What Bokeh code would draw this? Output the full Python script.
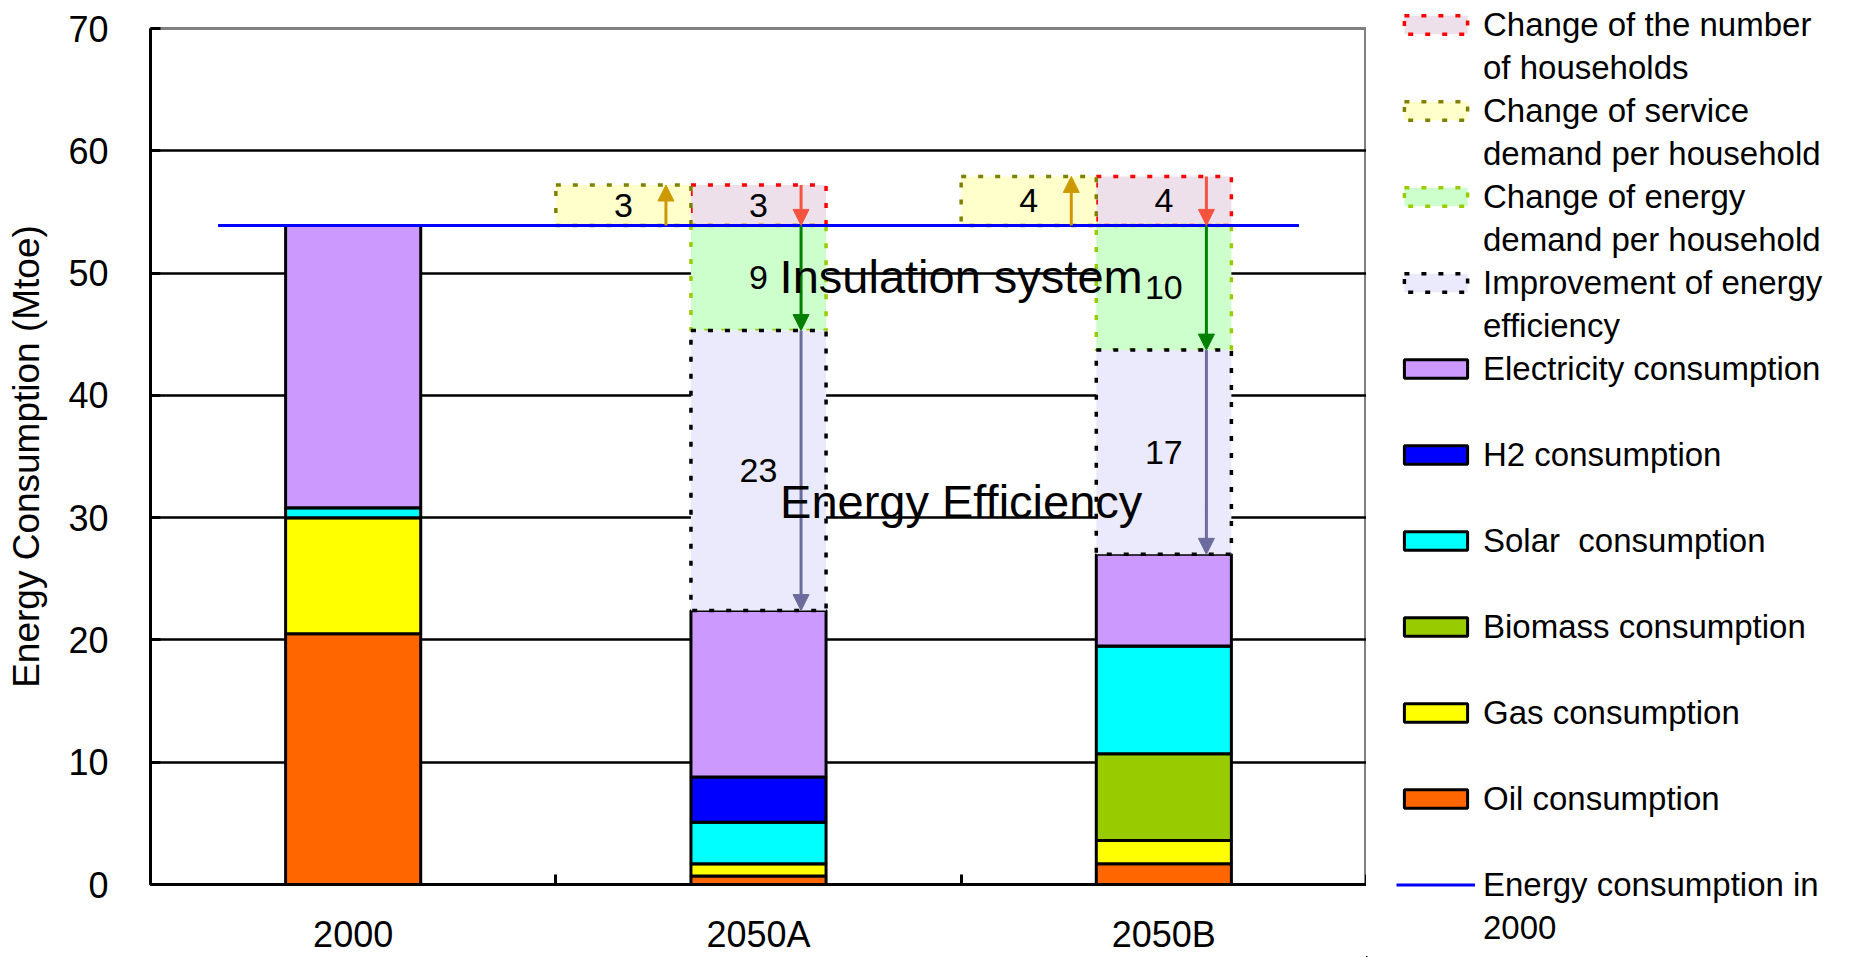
from bokeh.plotting import figure
from bokeh.layouts import row
from bokeh.models import (ColumnDataSource, Range1d, FixedTicker, Legend, LegendItem,
                          Arrow, NormalHead, Label, LabelSet)
from bokeh.embed import file_html
from bokeh.resources import INLINE
from bokeh.core.properties import value

# ---------------- data ----------------
categories = ["2000", "2050A", "2050B"]
oil = [20.5, 0.7, 1.7]
gas = [9.5, 1.0, 1.9]
biomass = [0.0, 0.0, 7.1]
solar = [0.8, 3.4, 8.8]
h2 = [0.0, 3.7, 0.0]
electricity = [23.1, 13.6, 7.5]

scenarios = ["2050A", "2050B"]
households_change = [3.3, 4.0]
service_change = [3.3, 4.0]
energy_demand_change = [8.6, 10.2]
efficiency_improvement = [22.9, 16.7]

y_ticks = [0, 10, 20, 30, 40, 50, 60, 70]

# ---------------- style ----------------
FONT = "Liberation Sans"
BAR_W = 1 / 3
ARROW_DX = 0.105
DASH = "5 12"

stack_keys = ["oil", "gas", "biomass", "solar", "h2", "electricity"]
stack_labels = [["Oil consumption"], ["Gas consumption"], ["Biomass consumption"],
                ["Solar  consumption"], ["H2 consumption"], ["Electricity consumption"]]
stack_colors = ["#FF6600", "#FFFF00", "#99CC00", "#00FFFF", "#0000FF", "#CC99FF"]

box_labels = [["Change of the number", "of households"],
              ["Change of service", "demand per household"],
              ["Change of energy", "demand per household"],
              ["Improvement of energy", "efficiency"]]
box_fill = ["#EDE0EA", "#FFFFCC", "#CCFFCC", "#EAEAFC"]
box_line = ["#FF0000", "#808000", "#99CC00", "#000000"]
arrow_col = ["#F55240", "#CC9900", "#008000", "#6B6B9E"]
line_label = ["Energy consumption in", "2000"]

xc = [i + 0.5 for i in range(len(categories))]
base = sum(v[0] for v in (oil, gas, biomass, solar, h2, electricity))

W, H = 1876, 957
FRAME_L, FRAME_R, FRAME_T, FRAME_B = 150, 1366, 28, 887
LEGEND_GAP = 30

p = figure(width=FRAME_R, height=H, x_range=Range1d(0, len(categories)),
           y_range=Range1d(y_ticks[0], y_ticks[-1]),
           output_backend="svg", toolbar_location=None,
           min_border_left=FRAME_L, min_border_right=0,
           min_border_top=FRAME_T, min_border_bottom=H - FRAME_B)
p.background_fill_color = "white"
p.border_fill_color = "white"
p.outline_line_color = "#808080"
p.outline_line_width = 3

# axes
p.xaxis.ticker = FixedTicker(ticks=xc, minor_ticks=list(range(len(categories) + 1)))
p.xaxis.major_label_overrides = {x: c for x, c in zip(xc, categories)}
p.xaxis.major_tick_line_color = None
p.xaxis.major_tick_in = 0
p.xaxis.major_tick_out = 0
p.xaxis.minor_tick_in = 10
p.xaxis.minor_tick_out = 0
p.xaxis.minor_tick_line_color = "black"
p.xaxis.minor_tick_line_width = 3
p.xaxis.major_label_standoff = 29

p.yaxis.ticker = FixedTicker(ticks=y_ticks)
p.yaxis.major_tick_in = 10
p.yaxis.major_tick_out = 0
p.yaxis.major_tick_line_width = 3
p.yaxis.major_tick_line_color = "black"
p.yaxis.minor_tick_line_color = None
p.yaxis.major_label_standoff = 42
p.yaxis.axis_label = "Energy Consumption (Mtoe)"
p.yaxis.axis_label_text_font = FONT
p.yaxis.axis_label_text_font_size = "37px"
p.yaxis.axis_label_text_font_style = "normal"
p.yaxis.axis_label_text_color = "black"
p.yaxis.axis_label_standoff = 18

for ax in (p.xaxis, p.yaxis):
    ax.axis_line_color = "black"
    ax.axis_line_width = 3
    ax.major_label_text_font = FONT
    ax.major_label_text_font_size = "36px"
    ax.major_label_text_color = "black"

p.xgrid.grid_line_color = None
p.ygrid.ticker = FixedTicker(ticks=y_ticks[1:-1])
p.ygrid.grid_line_color = "black"
p.ygrid.grid_line_width = 2.5

# stacked consumption bars
src = ColumnDataSource(dict(x=xc, oil=oil, gas=gas, biomass=biomass, solar=solar,
                            h2=h2, electricity=electricity))
p.vbar_stack(stack_keys, x="x", width=BAR_W, fill_color=stack_colors,
             line_color="black", line_width=3, source=src)

# decomposition boxes
sx = [xc[categories.index(s)] for s in scenarios]
hh_top = [base + v for v in households_change]
sv_top = [base + v for v in service_change]
en_bot = [base - v for v in energy_demand_change]
ef_bot = [b - v for b, v in zip(en_bot, efficiency_improvement)]


def box_source(xs, bottoms, tops, vals, arrow_up):
    return ColumnDataSource(dict(
        x=xs, bottom=bottoms, top=tops,
        ym=[(b + t) / 2 for b, t in zip(bottoms, tops)],
        lbl=[str(int(round(v))) for v in vals],
        xa=[x + ARROW_DX for x in xs],
        y0=bottoms if arrow_up else tops,
        y1=tops if arrow_up else bottoms))


box_sources = [
    box_source(sx, [base] * len(sx), hh_top, households_change, False),
    box_source([x - BAR_W for x in sx], [base] * len(sx), sv_top, service_change, True),
    box_source(sx, en_bot, [base] * len(sx), energy_demand_change, False),
    box_source(sx, ef_bot, en_bot, efficiency_improvement, False),
]
for s, fc, lc in zip(box_sources, box_fill, box_line):
    p.vbar(x="x", bottom="bottom", top="top", width=BAR_W, source=s,
           fill_color=fc, line_color=lc, line_width=3.5, line_dash=DASH)

p.line(x=[xc[0] - BAR_W, xc[-1] + BAR_W], y=[base, base],
       line_color="#0000FF", line_width=3)

for s, ac in zip(box_sources, arrow_col):
    p.add_layout(Arrow(end=NormalHead(size=16, fill_color=ac, line_color=ac),
                       x_start="xa", y_start="y0", x_end="xa", y_end="y1",
                       line_color=ac, line_width=3, source=s))
    p.add_layout(LabelSet(x="x", y="ym", text="lbl", source=s, text_align="center",
                          text_baseline="middle", text_font=value(FONT),
                          text_font_size="34px", text_color="black"))

p.add_layout(Label(x=2.0, y=49.7, text="Insulation system", text_align="center",
                   text_baseline="alphabetic", text_font=FONT, text_font_size="47px",
                   text_color="black"))
p.add_layout(Label(x=2.0, y=31.35, text="Energy Efficiency", text_align="center",
                   text_baseline="alphabetic", text_font=FONT, text_font_size="47px",
                   text_color="black"))

# ---------------- legend panel ----------------
leg = figure(width=W - FRAME_R, height=H, x_range=Range1d(0, 1), y_range=Range1d(0, 1),
             output_backend="svg", toolbar_location=None,
             x_axis_location=None, y_axis_location=None, min_border=0)
leg.grid.visible = False
leg.outline_line_color = None
leg.background_fill_color = "white"
leg.border_fill_color = "white"

free_frame = "frame_align" in type(leg).properties()
if free_frame:
    leg.frame_align = False


def offscreen():
    # legend-only renderers: one point placed outside the legend panel's ranges
    return ColumnDataSource(dict(x=[-10], bottom=[-10], top=[-10]))


entries = []
for lab, fc, lc in zip(box_labels, box_fill, box_line):
    r = leg.vbar(x="x", bottom="bottom", top="top", width=1, source=offscreen(),
                 fill_color=fc, line_color=lc, line_width=3.5, line_dash=DASH)
    entries.append((lab, r))
for lab, fc in reversed(list(zip(stack_labels, stack_colors))):
    r = leg.vbar(x="x", bottom="bottom", top="top", width=1, source=offscreen(),
                 fill_color=fc, line_color="black", line_width=3)
    entries.append((lab, r))
r = leg.line(x="x", y="top", source=offscreen(), line_color="#0000FF", line_width=3)
entries.append((line_label, r))

# every entry takes two text rows; the second row has a transparent glyph
blank_r = leg.vbar(x="x", bottom="bottom", top="top", width=1, source=offscreen(),
                   fill_alpha=0, line_alpha=0)
items = []
for lines, r in entries:
    rows = list(lines) + [" "] * (2 - len(lines))
    items.append(LegendItem(label=rows[0], renderers=[r]))
    items.append(LegendItem(label=rows[1], renderers=[blank_r]))

n_rows = len(items)
if free_frame:
    row_h = 43
    top_y = 3
    vy = H - n_rows * row_h - top_y
else:
    row_h = (FRAME_B - FRAME_T) // n_rows
    vy = 0

legend = Legend(items=items, location=(LEGEND_GAP, vy), orientation="vertical",
                glyph_width=79, glyph_height=23, label_standoff=8,
                label_height=row_h, spacing=0, padding=0, margin=0,
                label_text_font=FONT, label_text_font_size="33px",
                label_text_color="black",
                border_line_color=None, background_fill_alpha=0)
leg.add_layout(legend)

layout = row(p, leg)
open("out.html", "w").write(file_html(layout, INLINE))
